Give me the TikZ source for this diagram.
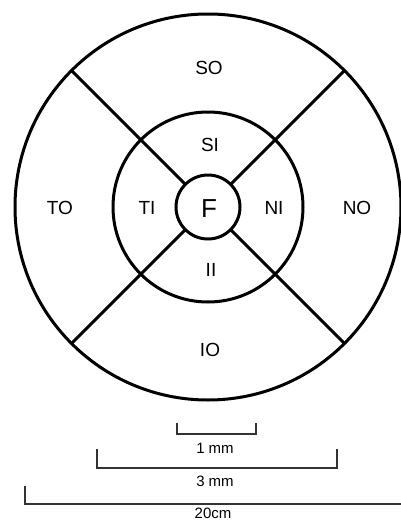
\documentclass[tikz,border=0pt]{standalone}
\usepackage{fontspec}
\setmainfont{Liberation Sans}
\begin{document}
\begin{tikzpicture}[x=1pt,y=-1pt,
  ring/.style={draw=black, line width=3pt, circle, inner sep=0pt, outer sep=0pt},
  divider/.style={draw=black, line width=3pt},
  zone/.style={font=\fontsize{19}{19}\selectfont, inner sep=0pt},
  bar/.style={draw=black!80, line width=1.8pt},
  barlabel/.style={font=\fontsize{15}{15}\selectfont, inner sep=0pt}]
\clip (0,0) rectangle (401,520);
\useasboundingbox (0,0) rectangle (401,520);
\coordinate (c) at (208,207);
\node[ring, minimum size=386pt] (outer) at (c) {};
\node[ring, minimum size=190pt] (mid) at (c) {};
\node[ring, minimum size=64pt] (inner) at (c) {};
\foreach \a in {45,135,225,315}
  \draw[divider] (inner.\a) -- (outer.\a);
\node[zone] (SO) at (209,68) {SO};
\node[zone] (SI) at (210,145) {SI};
\node[zone] (TO) at (60,208) {TO};
\node[zone] (TI) at (147,208) {TI};
\node[zone, font=\fontsize{26}{26}\selectfont] (F) at (209,209) {F};
\node[zone] (NI) at (274,208) {NI};
\node[zone] (NO) at (357,208) {NO};
\node[zone] (II) at (211,270) {II};
\node[zone] (IO) at (210,350) {IO};
% scale bars
\coordinate (a1) at (177,423); \coordinate (a2) at (177,434);
\coordinate (a3) at (256,434); \coordinate (a4) at (256,423);
\draw[bar] (a1) -- (a2) -- (a3) -- (a4);
\node[barlabel] (l1) at (215,448) {1 mm};
\coordinate (b1) at (97,449); \coordinate (b2) at (97,468);
\coordinate (b3) at (337,468); \coordinate (b4) at (337,449);
\draw[bar] (b1) -- (b2) -- (b3) -- (b4);
\node[barlabel] (l3) at (215,481) {3 mm};
\coordinate (d1) at (25,486); \coordinate (d2) at (25,504);
\coordinate (d3) at (420,504);
\draw[bar] (d1) -- (d2) -- (d3);
\node[barlabel] (l20) at (213,513) {20cm};
\end{tikzpicture}
\end{document}
